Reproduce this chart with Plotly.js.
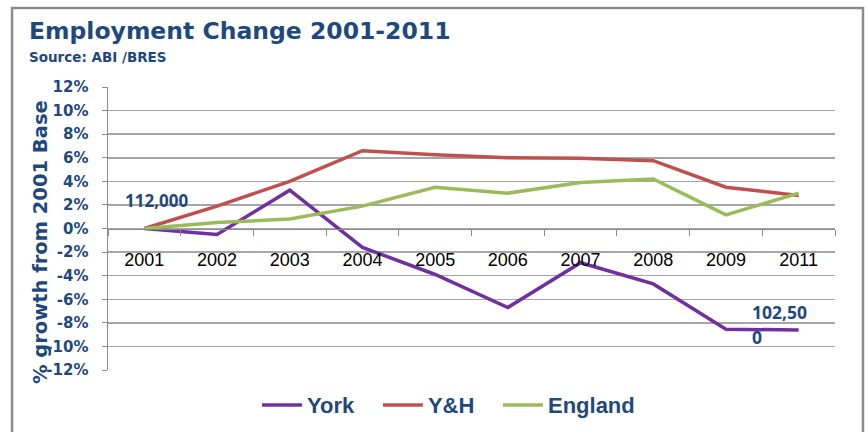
<!DOCTYPE html>
<html><head><meta charset="utf-8">
<script src="https://cdn.plot.ly/plotly-3.0.1.min.js"></script>
<style>html,body{margin:0;padding:0;background:#fff}#chart{width:867px;height:432px}</style>
</head><body><div id="chart"></div>
<script>
const years = ['2001','2002','2003','2004','2005','2006','2007','2008','2009','2011'];
const york = [0, -0.5, 3.25, -1.6, -3.9, -6.7, -2.9, -4.7, -8.55, -8.6];
const yh = [0, 1.9, 4.0, 6.6, 6.25, 6.0, 5.95, 5.75, 3.5, 2.8];
const england = [0, 0.5, 0.8, 1.9, 3.5, 3.0, 3.9, 4.2, 1.15, 3.0];
const seriesNames = ['York', 'Y&H', 'England'];
const colors = ['#7030A0', '#C0504D', '#9BBB59'];
const yTicks = [-12,-10,-8,-6,-4,-2,0,2,4,6,8,10,12];
const titleText = 'Employment Change 2001-2011';
const sourceText = 'Source: ABI /BRES';
const yTitle = '% growth from 2001 Base';
const startLabel = '112,000';
const endLabel1 = '102,50';
const endLabel2 = '0';

const navy = '#1F497D';
const legendIds = ['legend', 'legend2', 'legend3'];
const legendX = [0.2049, 0.3713, 0.5364];
const traces = [york, yh, england].map((v, i) => ({
  x: years, y: v, name: seriesNames[i], type: 'scatter', mode: 'lines',
  line: {color: colors[i], width: 3.5}, legend: legendIds[i]
}));

const legendStyle = (x) => ({orientation: 'h', x: x, xanchor: 'left', y: -0.124, yanchor: 'middle',
  font: {family: 'Liberation Sans, Arial', size: 22, color: navy, weight: 'bold'},
  itemwidth: 40, bgcolor: 'rgba(0,0,0,0)'});

const layout = {
  width: 867, height: 432,
  margin: {l: 108, r: 32, t: 87, b: 62, autoexpand: false},
  paper_bgcolor: '#fff', plot_bgcolor: '#fff',
  showlegend: true,
  legend: legendStyle(legendX[0]),
  legend2: legendStyle(legendX[1]),
  legend3: legendStyle(legendX[2]),
  xaxis: {type: 'category', categoryorder: 'array', categoryarray: years,
    range: [-0.5, years.length - 0.5], autorange: false,
    anchor: 'free', position: 0.5, showgrid: false,
    showline: true, linecolor: '#8C8C8C', linewidth: 1.5, zeroline: false,
    ticks: 'outside', tickson: 'boundaries', ticklen: 6, tickcolor: '#8C8C8C',
    tickangle: 0, ticklabelstandoff: 14,
    tickfont: {family: 'Liberation Sans, Arial', size: 18, color: '#000'}},
  yaxis: {range: [-12, 12], autorange: false, tickvals: yTicks, ticktext: yTicks.map(t => t + '%'),
    showgrid: true, gridcolor: '#A6A6A6', gridwidth: 1.5, zeroline: false,
    showline: true, linecolor: '#8C8C8C', linewidth: 1.5,
    ticks: 'outside', ticklen: 5, tickcolor: '#8C8C8C', ticklabelstandoff: 10,
    tickfont: {family: 'DejaVu Sans', size: 15, color: navy, weight: 'bold'}},
  shapes: [{type: 'rect', xref: 'paper', yref: 'paper', x0: -0.132, x1: 1.0385, y0: -0.35, y1: 1.279,
    line: {color: '#8C8C8C', width: 2.5}, fillcolor: 'rgba(0,0,0,0)', layer: 'below'}],
  annotations: [
    {text: titleText, xref: 'paper', yref: 'paper', x: -0.1114, y: 1.198, xanchor: 'left', yanchor: 'middle',
      showarrow: false, font: {family: 'DejaVu Sans', size: 23.5, color: navy, weight: 'bold'}},
    {text: sourceText, xref: 'paper', yref: 'paper', x: -0.1114, y: 1.106, xanchor: 'left', yanchor: 'middle',
      showarrow: false, font: {family: 'DejaVu Sans', size: 13.5, color: navy, weight: 'bold'}},
    {text: yTitle, xref: 'paper', yref: 'paper', x: -0.0935, y: 0.452, xanchor: 'center', yanchor: 'middle',
      textangle: -90, showarrow: false, font: {family: 'DejaVu Sans', size: 19.5, color: navy, weight: 'bold'}},
    {text: startLabel, xref: 'x', yref: 'y', x: 0, y: 2.4, xshift: 12, showarrow: false,
      font: {family: 'Noto Sans', size: 17, color: navy, weight: 'bold'}},
    {text: endLabel1, xref: 'x', yref: 'y', x: years.length - 1, y: -7.08, xanchor: 'left', xshift: -49, showarrow: false,
      font: {family: 'Noto Sans', size: 17.5, color: navy, weight: 'bold'}},
    {text: endLabel2, xref: 'x', yref: 'y', x: years.length - 1, y: -9.2, xanchor: 'left', xshift: -49, showarrow: false,
      font: {family: 'Noto Sans', size: 17.5, color: navy, weight: 'bold'}}
  ]
};
Plotly.newPlot('chart', traces, layout, {displayModeBar: false, staticPlot: true});
</script></body></html>
